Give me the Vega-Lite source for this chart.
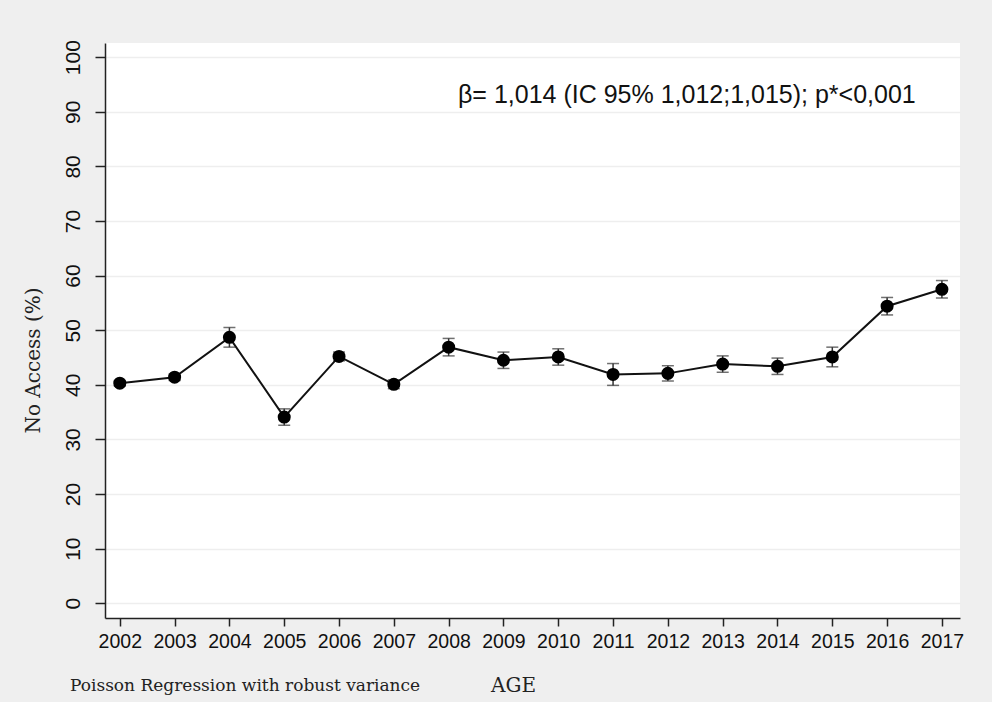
{
  "$schema": "https://vega.github.io/schema/vega-lite/v6.json",
  "autosize": "none",
  "width": 855,
  "height": 575,
  "padding": {"left": 105, "top": 43, "right": 32, "bottom": 84},
  "background": "#efefef",
  "title": {
    "text": "Poisson Regression with robust variance",
    "orient": "bottom",
    "anchor": "start",
    "frame": "group",
    "dx": -35,
    "dy": -21,
    "font": "DejaVu Serif",
    "fontSize": 17,
    "fontWeight": "normal",
    "color": "#222222"
  },
  "datasets": {
    "points": [
      {"year": 2002, "pct": 40.3, "lo": 39.8, "hi": 40.8},
      {"year": 2003, "pct": 41.4, "lo": 40.8, "hi": 42.0},
      {"year": 2004, "pct": 48.7, "lo": 46.9, "hi": 50.5},
      {"year": 2005, "pct": 34.1, "lo": 32.6, "hi": 35.6},
      {"year": 2006, "pct": 45.2, "lo": 44.4, "hi": 46.0},
      {"year": 2007, "pct": 40.1, "lo": 39.3, "hi": 40.9},
      {"year": 2008, "pct": 46.9, "lo": 45.3, "hi": 48.5},
      {"year": 2009, "pct": 44.5, "lo": 43.0, "hi": 46.0},
      {"year": 2010, "pct": 45.1, "lo": 43.6, "hi": 46.6},
      {"year": 2011, "pct": 41.9, "lo": 39.9, "hi": 43.9},
      {"year": 2012, "pct": 42.1, "lo": 40.7, "hi": 43.5},
      {"year": 2013, "pct": 43.8, "lo": 42.3, "hi": 45.3},
      {"year": 2014, "pct": 43.4, "lo": 41.9, "hi": 44.9},
      {"year": 2015, "pct": 45.1, "lo": 43.3, "hi": 46.9},
      {"year": 2016, "pct": 54.4, "lo": 52.8, "hi": 56.0},
      {"year": 2017, "pct": 57.5, "lo": 55.9, "hi": 59.1}
    ],
    "note": [
      {"year": 2008.17, "pct": 93.0, "label": "β= 1,014 (IC 95% 1,012;1,015); p*<0,001"}
    ]
  },
  "config": {
    "view": {"fill": "white", "stroke": null},
    "axis": {
      "domainColor": "#222222",
      "domainWidth": 1.5,
      "tickColor": "#222222",
      "tickWidth": 1.5,
      "labelColor": "#111111",
      "labelFont": "Liberation Sans",
      "gridColor": "#eeeeee",
      "gridWidth": 1.5,
      "titleFontWeight": "normal",
      "titleColor": "#222222",
      "titleFont": "DejaVu Serif"
    }
  },
  "layer": [
    {
      "data": {"name": "points"},
      "mark": {"type": "rule", "color": "#333333", "strokeWidth": 1.5},
      "encoding": {
        "x": {"field": "year", "type": "quantitative",
              "scale": {"domain": [2001.73, 2017.33], "nice": false, "zero": false},
              "axis": {"values": [2002,2003,2004,2005,2006,2007,2008,2009,2010,2011,2012,2013,2014,2015,2016,2017],
                       "format": "d", "grid": false, "labelFontSize": 19.5, "labelPadding": 6, "tickSize": 8,
                       "title": "AGE", "titleFontSize": 20, "titleX": 408, "titleY": 67,
                       "titleAlign": "center", "titleBaseline": "middle"}},
        "y": {"field": "lo", "type": "quantitative",
              "scale": {"domain": [-2.7, 102.6], "nice": false, "zero": false},
              "axis": {"values": [0,10,20,30,40,50,60,70,80,90,100], "grid": true,
                       "labelAngle": -90, "labelAlign": "center", "labelBaseline": "bottom",
                       "labelFontSize": 21, "labelPadding": 12, "tickSize": 10,
                       "title": "No Access (%)", "titleFontSize": 20, "titleAngle": -90,
                       "titleX": -72, "titleY": 317, "titleAlign": "center", "titleBaseline": "middle"}},
        "y2": {"field": "hi"}
      }
    },
    {
      "data": {"name": "points"},
      "mark": {"type": "tick", "orient": "horizontal", "color": "#333333", "size": 12, "thickness": 1.5},
      "encoding": {
        "x": {"field": "year", "type": "quantitative"},
        "y": {"field": "lo", "type": "quantitative"}
      }
    },
    {
      "data": {"name": "points"},
      "mark": {"type": "tick", "orient": "horizontal", "color": "#333333", "size": 12, "thickness": 1.5},
      "encoding": {
        "x": {"field": "year", "type": "quantitative"},
        "y": {"field": "hi", "type": "quantitative"}
      }
    },
    {
      "data": {"name": "points"},
      "mark": {"type": "line", "color": "#111111", "strokeWidth": 2},
      "encoding": {
        "x": {"field": "year", "type": "quantitative"},
        "y": {"field": "pct", "type": "quantitative"}
      }
    },
    {
      "data": {"name": "points"},
      "mark": {"type": "point", "filled": true, "shape": "circle", "color": "#000000", "opacity": 1, "size": 170},
      "encoding": {
        "x": {"field": "year", "type": "quantitative"},
        "y": {"field": "pct", "type": "quantitative"}
      }
    },
    {
      "data": {"name": "note"},
      "mark": {"type": "text", "align": "left", "baseline": "middle", "font": "Liberation Sans", "fontSize": 25, "color": "#111111"},
      "encoding": {
        "x": {"field": "year", "type": "quantitative"},
        "y": {"field": "pct", "type": "quantitative"},
        "text": {"field": "label"}
      }
    }
  ]
}
